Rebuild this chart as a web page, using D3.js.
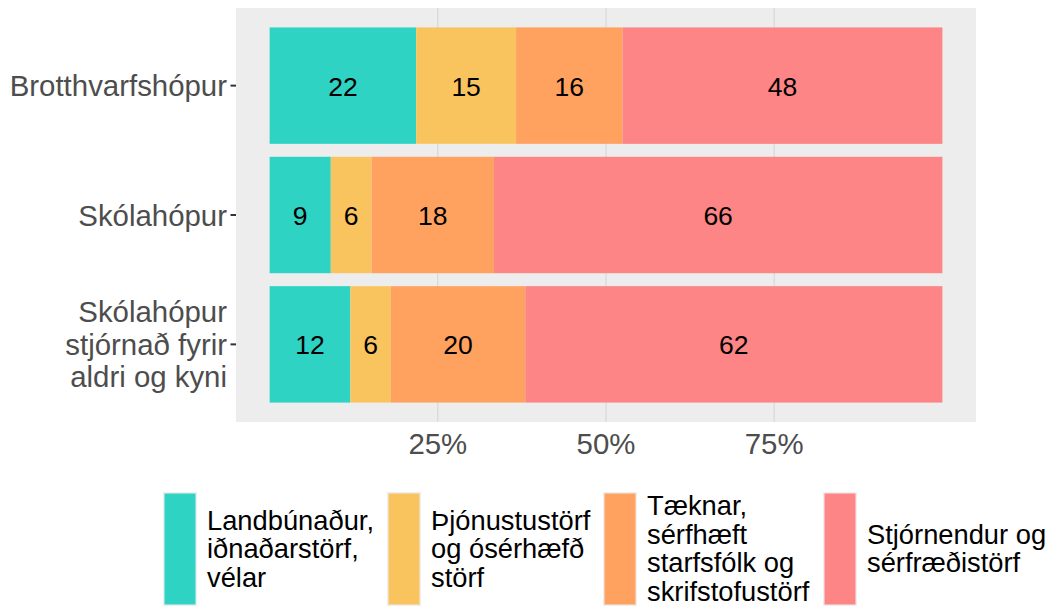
<!DOCTYPE html>
<html>
<head>
<meta charset="utf-8">
<script src="https://cdn.jsdelivr.net/npm/d3@7"></script>
<style>
  html, body { margin: 0; padding: 0; background: #ffffff; }
  svg { display: block; font-family: "Liberation Sans", Arial, sans-serif; }
</style>
</head>
<body>
<svg id="chart" width="1055" height="608"></svg>
<script>
// Groups (top to bottom), with line breaks for the axis labels
const groups = ["Brotthvarfshópur", "Skólahópur", "Skólahópur\nstjórnað fyrir\naldri og kyni"];

// Occupation categories (stack order, left to right), wrapped for the legend
const categories = [
  "Landbúnaður,\niðnaðarstörf,\nvélar",
  "Þjónustustörf\nog ósérhæfð\nstörf",
  "Tæknar,\nsérfhæft\nstarfsfólk og\nskrifstofustörf",
  "Stjórnendur og\nsérfræðistörf"
];

// Percentages per group, one array per category
const landbunadur = [22, 9, 12];
const thjonusta   = [15, 6, 6];
const taeknar     = [16, 18, 20];
const stjornendur = [48, 66, 62];

const colors = ["#2fd3c3", "#f9c45e", "#ffa15f", "#fd8585"];

const xTicks = [0.25, 0.5, 0.75];
const xTickLabels = ["25%", "50%", "75%"];

// ---- layout ----
const svg = d3.select("#chart");
const panel = { left: 236, right: 976, top: 8, bottom: 422 };

const series = [landbunadur, thjonusta, taeknar, stjornendur];
const rows = groups.map((g, i) => {
  const r = { group: g };
  categories.forEach((c, j) => { r[c] = series[j][i]; });
  return r;
});

const stacked = d3.stack()
  .keys(categories)
  .offset(d3.stackOffsetExpand)(rows);

const x = d3.scaleLinear()
  .domain([-0.05, 1.05])
  .range([panel.left, panel.right]);

const y = d3.scaleBand()
  .domain(groups)
  .range([panel.top, panel.bottom])
  .paddingInner(0.1)
  .paddingOuter(0.15);

const color = d3.scaleOrdinal().domain(categories).range(colors);

// panel background
svg.append("rect")
  .attr("x", panel.left).attr("y", panel.top)
  .attr("width", panel.right - panel.left)
  .attr("height", panel.bottom - panel.top)
  .attr("fill", "#ededed");

// vertical grid lines
svg.append("g").selectAll("line")
  .data(xTicks)
  .join("line")
  .attr("x1", d => x(d)).attr("x2", d => x(d))
  .attr("y1", panel.top).attr("y2", panel.bottom)
  .attr("stroke", "#d4d4d4")
  .attr("stroke-width", 1);

// stacked bars
const layer = svg.append("g").selectAll("g")
  .data(stacked)
  .join("g")
  .attr("fill", d => color(d.key));

layer.selectAll("rect")
  .data(d => d)
  .join("rect")
  .attr("x", d => x(d[0]))
  .attr("width", d => x(d[1]) - x(d[0]))
  .attr("y", d => y(d.data.group))
  .attr("height", y.bandwidth());

// value labels
layer.selectAll("text")
  .data(d => d.map(s => ({ s, key: d.key })))
  .join("text")
  .attr("x", d => (x(d.s[0]) + x(d.s[1])) / 2)
  .attr("y", d => y(d.s.data.group) + y.bandwidth() / 2 + 10)
  .attr("text-anchor", "middle")
  .attr("font-size", 26.5)
  .attr("fill", "#000000")
  .text(d => d.s.data[d.key]);

// x axis labels (no tick marks)
svg.append("g").selectAll("text")
  .data(xTicks)
  .join("text")
  .attr("x", d => x(d))
  .attr("y", 454)
  .attr("text-anchor", "middle")
  .attr("font-size", 29.4)
  .attr("fill", "#4d4d4d")
  .text((d, i) => xTickLabels[i]);

// y axis: ticks and multi-line labels
const yAxis = svg.append("g");
groups.forEach(g => {
  const cy = y(g) + y.bandwidth() / 2;
  yAxis.append("line")
    .attr("x1", panel.left - 5.5).attr("x2", panel.left)
    .attr("y1", cy).attr("y2", cy)
    .attr("stroke", "#333333")
    .attr("stroke-width", 2);
  const lines = g.split("\n");
  const lh = 32.5;
  const first = cy - (lines.length - 1) * lh / 2 + 10.5;
  const t = yAxis.append("text")
    .attr("text-anchor", "end")
    .attr("font-size", 29.4)
    .attr("fill", "#4d4d4d");
  lines.forEach((ln, i) => {
    t.append("tspan")
      .attr("x", 227)
      .attr("y", first + i * lh)
      .text(ln);
  });
});

// legend
const legendKeyX = [163, 387, 603, 823];
const keyW = 34, keyTop = 492, keyH = 114;
const legend = svg.append("g");
categories.forEach((c, i) => {
  const kx = legendKeyX[i];
  legend.append("rect")
    .attr("x", kx).attr("y", keyTop)
    .attr("width", keyW).attr("height", keyH)
    .attr("fill", "#eeeeee");
  legend.append("rect")
    .attr("x", kx + 1.5).attr("y", keyTop + 1.5)
    .attr("width", keyW - 3).attr("height", keyH - 3)
    .attr("fill", color(c));
  const lines = c.split("\n");
  const lh = 28.5;
  const cy = keyTop + keyH / 2;
  const first = cy - (lines.length - 1) * lh / 2 + 9;
  const t = legend.append("text")
    .attr("font-size", 27.3)
    .attr("fill", "#000000");
  lines.forEach((ln, j) => {
    t.append("tspan")
      .attr("x", kx + keyW + 10)
      .attr("y", first + j * lh)
      .text(ln);
  });
});
</script>
</body>
</html>
